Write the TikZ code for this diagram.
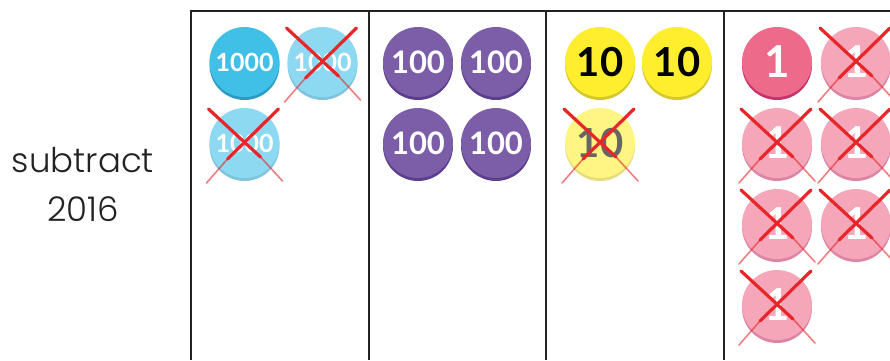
\documentclass[tikz,border=0pt]{standalone}
\usepackage{fontspec}
\setmainfont{Lato}
\newfontfamily\sidefont{Poppins Light}
\usetikzlibrary{positioning}
\definecolor{thoufill}{HTML}{40C0E7}
\definecolor{thoushade}{HTML}{2A9BC4}
\definecolor{hundfill}{HTML}{7C5EA8}
\definecolor{hundshade}{HTML}{5B3E8C}
\definecolor{tenfill}{HTML}{FFEE2E}
\definecolor{tenshade}{HTML}{D6C72A}
\definecolor{onefill}{HTML}{EE6A8A}
\definecolor{oneshade}{HTML}{C7336B}
\definecolor{crossred}{HTML}{E8262A}
\definecolor{rule}{HTML}{222222}

\begin{document}
\begin{tikzpicture}[x=1pt, y=-1pt,
  coin/.style={circle, minimum size=70pt, inner sep=0pt, font=\bfseries},
  faded/.style={transparency group, opacity=0.6},
  cross/.style={crossred, line width=3.2pt, line cap=round},
  cross tail/.style={crossred, line width=1.6pt, opacity=0.6, line cap=round}]
  \useasboundingbox (0,0) rectangle (890,360);
  % Place value columns
  \draw[rule, line width=2.5pt] (190,11) -- (890,11);
  \foreach \x in {191,369,546,724}
    \draw[rule, line width=2.5pt] (\x,11) -- (\x,360);
  % Side label
  \node[font=\sidefont\fontsize{34}{49}\selectfont, align=center, text=rule] (subtr) at (83,184) {subtract\\2016};
  % Counters: name/x/y/fill/shade/text/size/label/fade
  \foreach \n/\x/\y/\f/\s/\t/\sz/\lab/\fd in {
      th1/244.5/62/thoufill/thoushade/white/25/1000/,
      th2/322.5/62/thoufill/thoushade/white/25/1000/faded,
      th3/244.5/143/thoufill/thoushade/white/25/1000/faded,
      h1/418/62/hundfill/hundshade/white/31/100/,
      h2/496/62/hundfill/hundshade/white/31/100/,
      h3/418/143/hundfill/hundshade/white/31/100/,
      h4/496/143/hundfill/hundshade/white/31/100/,
      t1/600/62/tenfill/tenshade/black/40/10/,
      t2/677/62/tenfill/tenshade/black/40/10/,
      t3/600/143/tenfill/tenshade/black/40/10/faded,
      o1/777/62/onefill/oneshade/white/44/1/,
      o2/856/62/onefill/oneshade/white/44/1/faded,
      o3/777/143/onefill/oneshade/white/44/1/faded,
      o4/856/143/onefill/oneshade/white/44/1/faded,
      o5/777/224/onefill/oneshade/white/44/1/faded,
      o6/856/224/onefill/oneshade/white/44/1/faded,
      o7/777/305/onefill/oneshade/white/44/1/faded} {
    \begin{scope}[\fd]
      \fill[\s] (\x,\y+3) circle (35pt);
      \node[coin, fill=\f, text=\t, font=\bfseries\fontsize{\sz}{\sz}\selectfont] (\n) at (\x,\y) {\lab};
    \end{scope}
  }
  % Crossed out counters
  \foreach \c in {th2,th3,t3,o2,o3,o4,o5,o6,o7} {
    \draw[cross] ([shift={(-36,-34)}]\c.center) -- ([shift={(16,14)}]\c.center);
    \draw[cross tail] ([shift={(16,14)}]\c.center) -- ([shift={(38,38)}]\c.center);
    \draw[cross] ([shift={(34,-34)}]\c.center) -- ([shift={(-17,16)}]\c.center);
    \draw[cross tail] ([shift={(-17,16)}]\c.center) -- ([shift={(-38,40)}]\c.center);
  }
\end{tikzpicture}
\end{document}
